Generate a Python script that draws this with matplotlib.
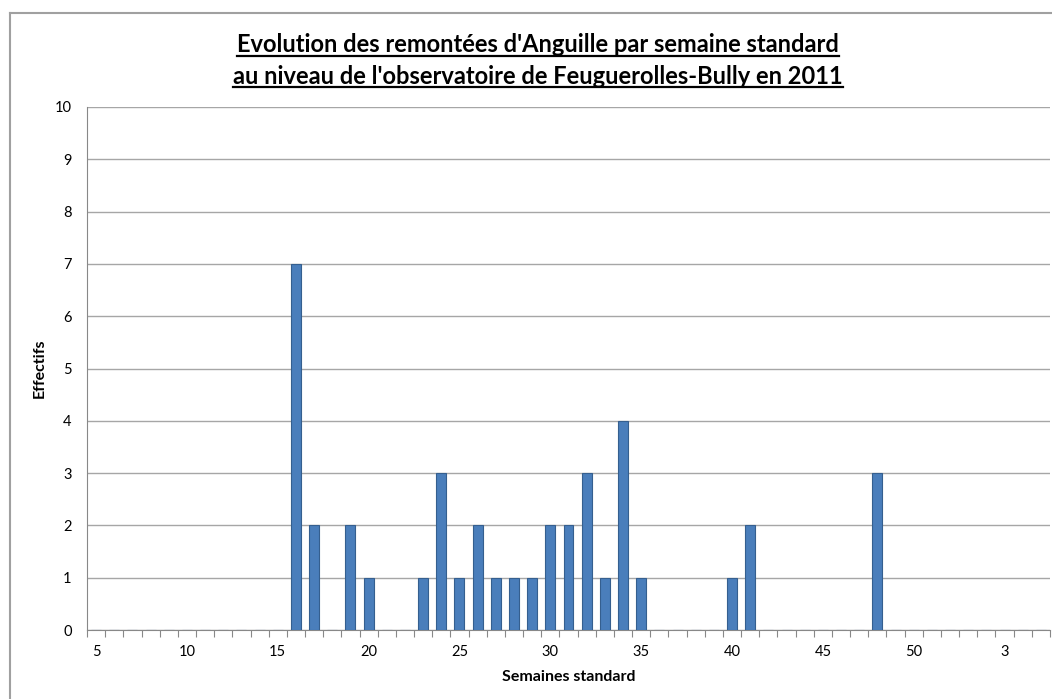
import matplotlib
matplotlib.use("Agg")
import matplotlib.pyplot as plt
from matplotlib.lines import Line2D

# Semaines standard shown on the axis (5 -> 52, then 1 -> 5 of next year)
semaines = list(range(5, 53)) + [1, 2, 3, 4, 5]
effectifs = [0, 0, 0, 0, 0, 0, 0, 0, 0, 0, 0,   # 5..15
             7, 2, 0, 2, 1, 0, 0, 1, 3, 1,      # 16..25
             2, 1, 1, 1, 2, 2, 3, 1, 4, 1,      # 26..35
             0, 0, 0, 0, 1, 2, 0, 0, 0, 0,      # 36..45
             0, 0, 3, 0, 0, 0, 0,               # 46..52
             0, 0, 0, 0, 0]                     # 1..5
title_lines = ["Evolution des remontées d'Anguille par semaine standard",
               "au niveau de l'observatoire de Feuguerolles-Bully en 2011"]

plt.rcParams['font.family'] = ['Lato', 'DejaVu Sans']

W, H = 1052, 699
fig = plt.figure(figsize=(W / 100, H / 100), dpi=100)
ax = fig.add_axes([87 / W, 1 - 630 / H, (1050 - 87) / W, (630 - 107) / H])

x = list(range(len(semaines)))
ax.bar(x, effectifs, width=0.55, color='#4a7ebb', edgecolor='#355f8f', linewidth=0.8, zorder=3)

ax.set_xlim(-0.5, len(semaines) - 0.5)
ax.set_ylim(0, 10)
ax.set_yticks(range(0, 11))
ax.yaxis.grid(True, color='#a6a6a6', linewidth=1.0)
ax.set_axisbelow(True)
ax.tick_params(axis='y', length=0, labelsize=10.5, pad=11)

# tick marks between categories, labels every 5th category
ax.set_xticks([i - 0.5 for i in range(len(semaines) + 1)])
ax.set_xticklabels([])
lab_pos = [i for i in x if i % 5 == 0]
ax.set_xticks(lab_pos, [str(semaines[i]) for i in lab_pos], minor=True)
ax.tick_params(axis='x', which='major', length=5, color='#888888', direction='out')
ax.tick_params(axis='x', which='minor', length=0, labelsize=10.5, pad=11)

for side in ['top', 'right']:
    ax.spines[side].set_visible(False)
for side in ['left', 'bottom']:
    ax.spines[side].set_color('#888888')

ax.set_xlabel("Semaines standard", fontsize=11.5, fontweight='bold', labelpad=8)
ax.set_ylabel("Effectifs", fontsize=11.5, fontweight='bold', labelpad=6)

# outer chart border
fig.add_artist(Line2D([10 / W, 1], [1 - 13 / H, 1 - 13 / H], color='#a0a0a0', linewidth=1.5))
fig.add_artist(Line2D([10 / W, 10 / W], [0, 1 - 13 / H], color='#a0a0a0', linewidth=1.5))

# underlined two-line title
texts = []
for k, line in enumerate(title_lines):
    t = fig.text(538 / W, 1 - (45 + 31 * k) / H, line, ha='center', va='center',
                 fontsize=17, fontweight='bold')
    texts.append(t)
fig.canvas.draw()
r = fig.canvas.get_renderer()
for t in texts:
    bb = t.get_window_extent(r)
    yline = (bb.y0 + 1) / H
    fig.add_artist(Line2D([bb.x0 / W, bb.x1 / W], [yline, yline], color='black', linewidth=1.6))

fig.savefig("out.png", dpi=100)
